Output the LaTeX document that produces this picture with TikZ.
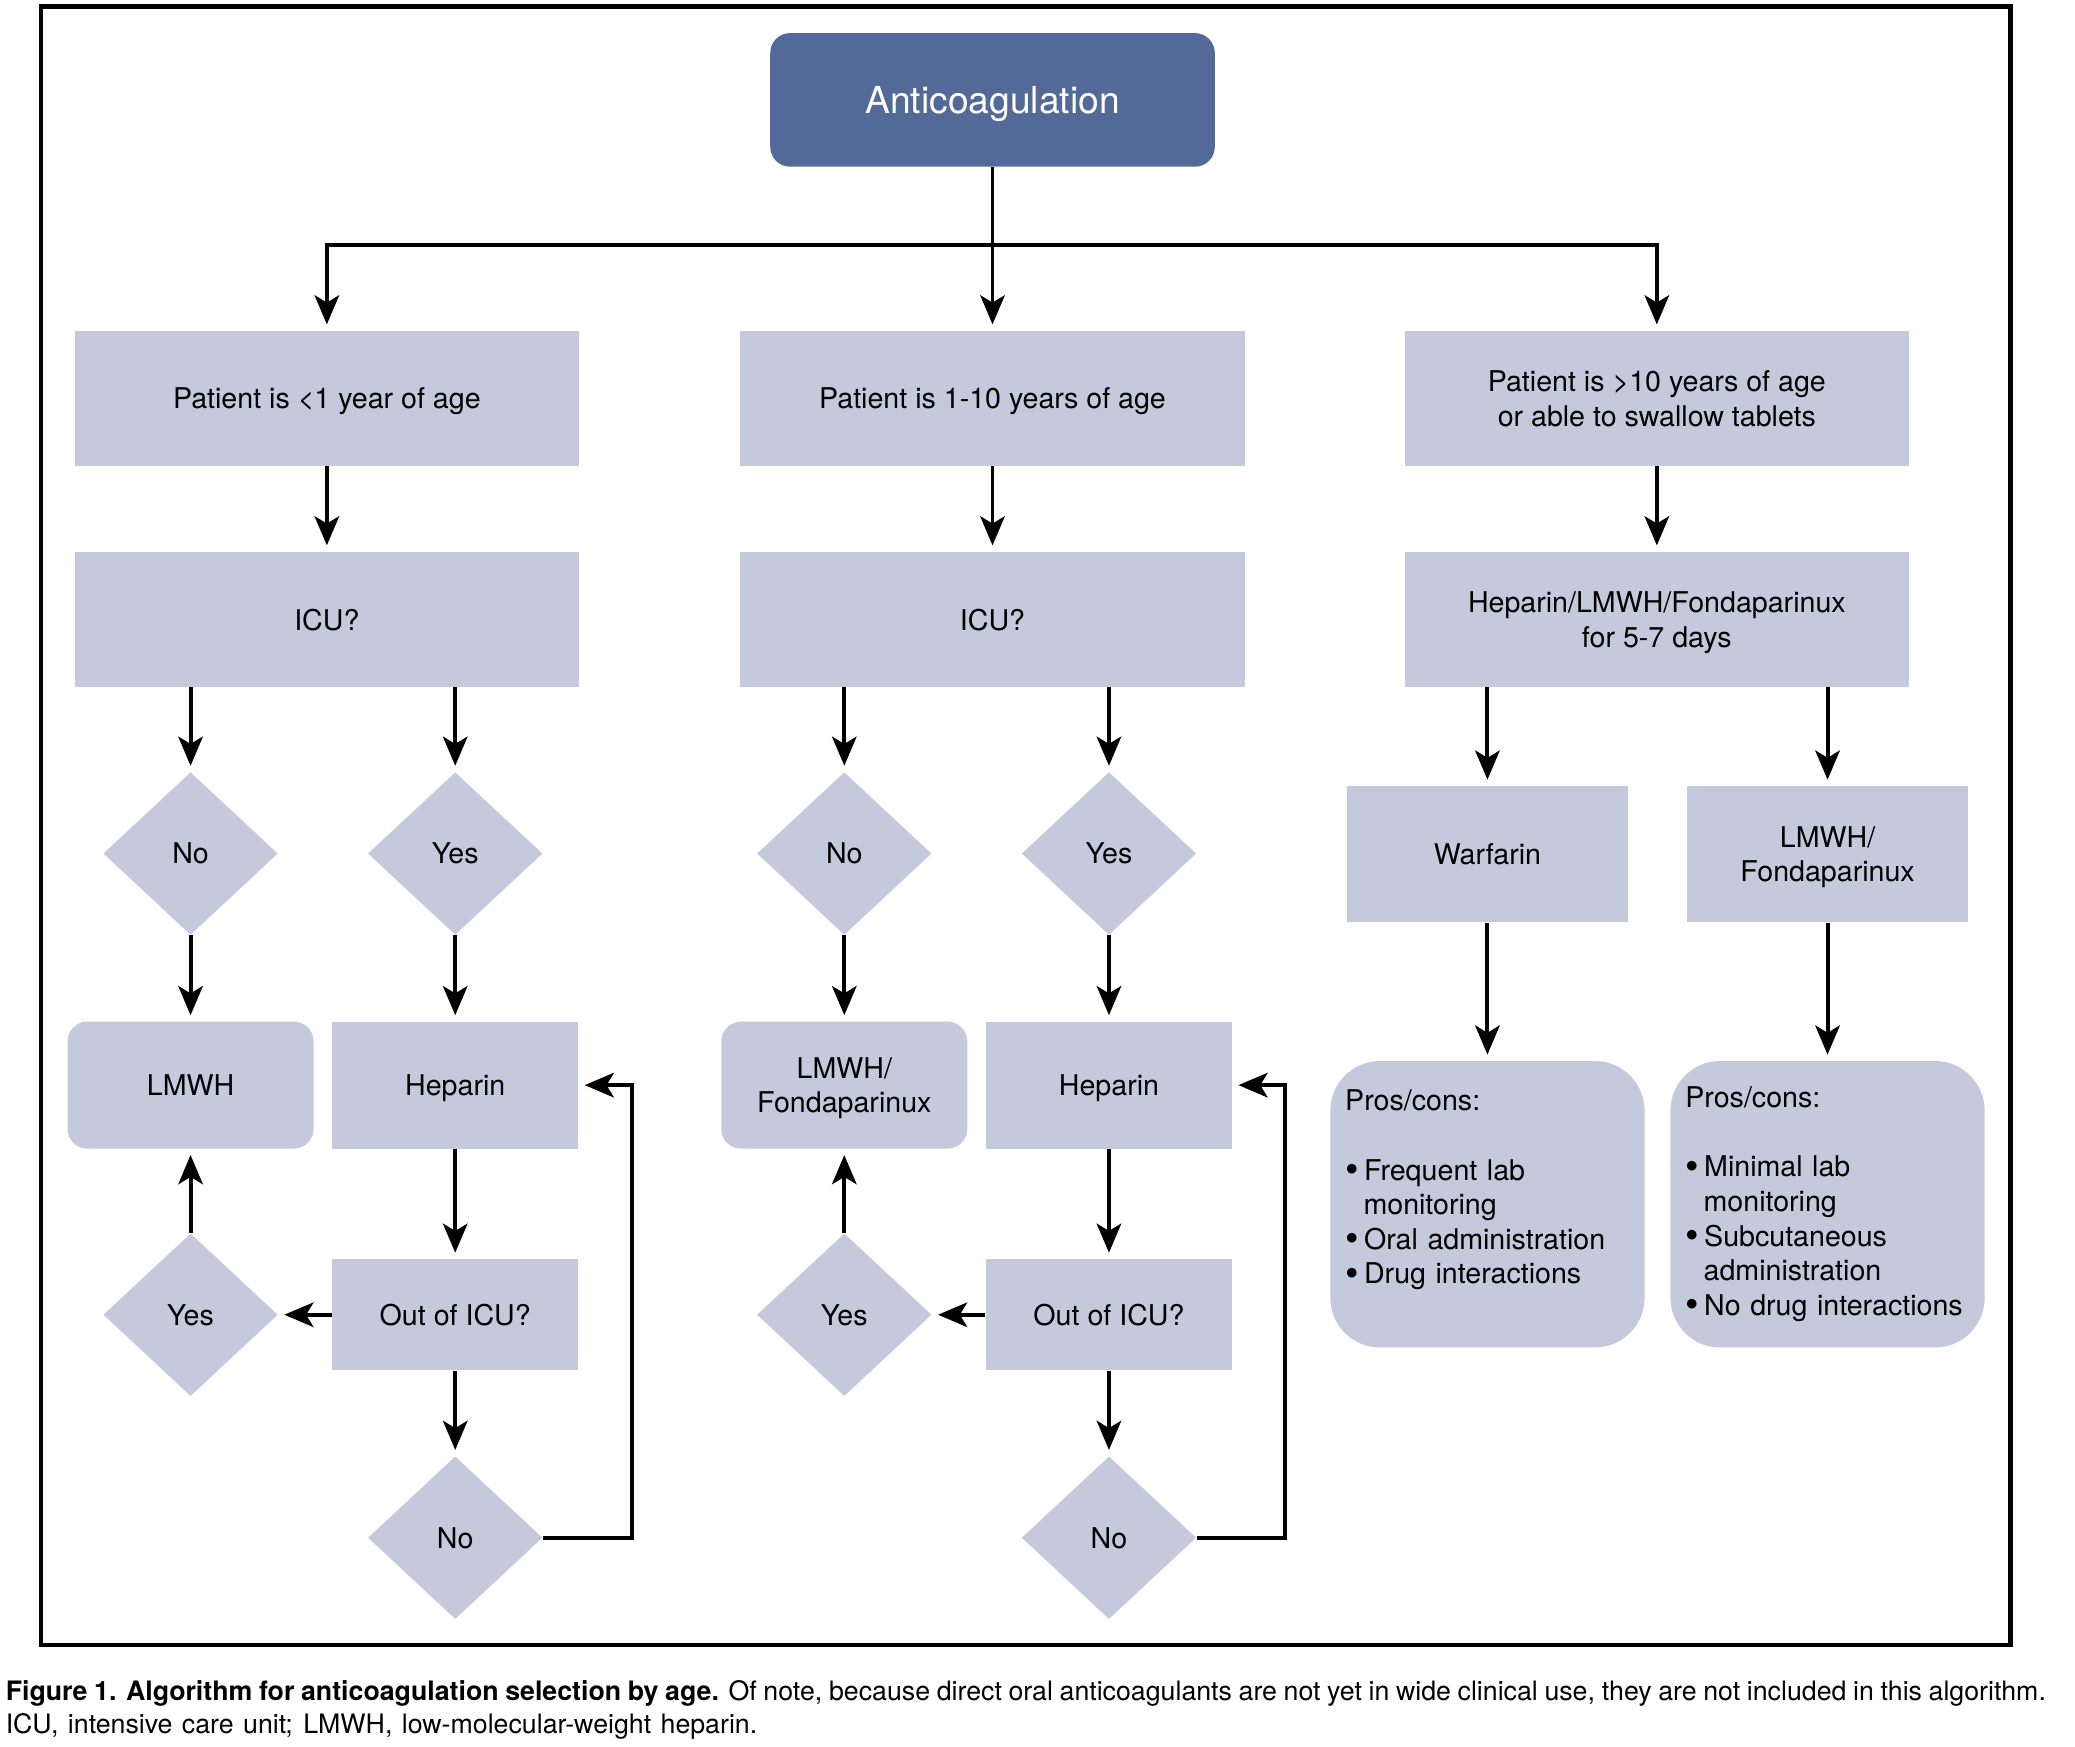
\documentclass[tikz,border=0pt]{standalone}
\usepackage{fontspec}
\setmainfont{TeX Gyre Heros}
\usetikzlibrary{arrows.meta,shapes.geometric}
\definecolor{topblue}{RGB}{83,106,153}
\definecolor{boxgray}{RGB}{197,201,220}
\tikzset{
  box/.style={fill=boxgray, inner sep=0pt, align=center, text depth=0pt, font=\fontsize{12.3}{14.9}\selectfont},
  agebox/.style={box, minimum width=7.62cm, minimum height=2.04cm},
  drugbox/.style={box, minimum width=3.72cm, minimum height=1.92cm},
  druground/.style={drugbox, rounded corners=0.3cm},
  outbox/.style={box, minimum width=3.72cm, minimum height=1.68cm},
  oralbox/.style={box, minimum width=4.25cm, minimum height=2.06cm},
  prosbox/.style={box, text depth={}, rounded corners=0.75cm, align=left, text width=4.3cm, inner xsep=0.225cm, minimum height=4.33cm},
  choice/.style={box, diamond, minimum width=2.64cm, minimum height=2.46cm},
  arr/.style={-{Stealth[length=0.44cm,width=0.37cm,inset=0.11cm]}, line width=1.7pt, shorten >=0.09cm},
  plain/.style={line width=1.7pt}
}
\newcommand{\bul}{\makebox[0.66em][l]{\raisebox{-0.08em}{\scalebox{1.35}{\textbullet}}}}
\newcommand{\ind}{\hspace*{0.64em}}

\begin{document}
\begin{tikzpicture}[x=0.02cm, y=-0.02cm]
\useasboundingbox (0,0) rectangle (1568,1319.4);
\draw[line width=2pt] (31,5) rectangle (1519.3,1243);

% top
\node[fill=topblue, rounded corners=0.3cm, minimum width=6.72cm, minimum height=2.02cm, text depth=0pt,
      text=white, font=\fontsize{16}{19}\selectfont] (anti) at (750,75.5) {Anticoagulation};
\coordinate (split) at (750,185);

% age groups
\node[agebox] (pat1) at (247,301) {Patient is <1 year of age};
\node[agebox] (pat2) at (750,301) {Patient is 1-10 years of age};
\node[agebox] (pat3) at (1252,301) {Patient is >10 years of age\\or able to swallow tablets};

\node[agebox] (icu1) at (247,468) {ICU?};
\node[agebox] (icu2) at (750,468) {ICU?};
\node[agebox] (bridge) at (1252,468) {Heparin/LMWH/Fondaparinux\\for 5-7 days};

% left column
\node[choice] (no1) at (144,645) {No};
\node[choice] (yes1) at (344,645) {Yes};
\node[druground] (lmwh1) at (144,820) {LMWH};
\node[drugbox] (hep1) at (344,820) {Heparin};
\node[outbox] (out1) at (344,993.5) {Out of ICU?};
\node[choice] (back1) at (144,993.5) {Yes};
\node[choice] (stay1) at (344,1162) {No};

% middle column
\node[choice] (no2) at (638,645) {No};
\node[choice] (yes2) at (838,645) {Yes};
\node[druground] (lmwh2) at (638,820) {LMWH/\\Fondaparinux};
\node[drugbox] (hep2) at (838,820) {Heparin};
\node[outbox] (out2) at (838,993.5) {Out of ICU?};
\node[choice] (back2) at (638,993.5) {Yes};
\node[choice] (stay2) at (838,1162) {No};

% right column
\node[oralbox] (warf) at (1124,645.5) {Warfarin};
\node[oralbox] (lmwh3) at (1381,645.5) {LMWH/\\Fondaparinux};
\node[prosbox] (pros1) at (1124,910) {Pros/cons:\\\mbox{}\\\bul Frequent lab\\\ind monitoring\\\bul Oral administration\\\bul Drug interactions\\\mbox{}};
\node[prosbox] (pros2) at (1381,910) {Pros/cons:\\\mbox{}\\\bul Minimal lab\\\ind monitoring\\\bul Subcutaneous\\\ind administration\\\bul No drug interactions};

% connectors
\draw[arr] (anti.south) -- (pat2.north);
\draw[arr] (split) -| (pat1.north);
\draw[arr] (split) -| (pat3.north);
\draw[arr] (pat1.south) -- (icu1.north);
\draw[arr] (pat2.south) -- (icu2.north);
\draw[arr] (pat3.south) -- (bridge.north);

\draw[arr] (icu1.south -| no1.north) -- (no1.north);
\draw[arr] (icu1.south -| yes1.north) -- (yes1.north);
\draw[arr] (no1.south) -- (lmwh1.north);
\draw[arr] (yes1.south) -- (hep1.north);
\draw[arr] (hep1.south) -- (out1.north);
\draw[arr] (out1.west) -- (back1.east);
\draw[arr] (back1.north) -- (lmwh1.south);
\draw[arr] (out1.south) -- (stay1.north);
\draw[arr] (stay1.east) -- ++(67,0) |- (hep1.east);

\draw[arr] (icu2.south -| no2.north) -- (no2.north);
\draw[arr] (icu2.south -| yes2.north) -- (yes2.north);
\draw[arr] (no2.south) -- (lmwh2.north);
\draw[arr] (yes2.south) -- (hep2.north);
\draw[arr] (hep2.south) -- (out2.north);
\draw[arr] (out2.west) -- (back2.east);
\draw[arr] (back2.north) -- (lmwh2.south);
\draw[arr] (out2.south) -- (stay2.north);
\draw[arr] (stay2.east) -- ++(67,0) |- (hep2.east);

\draw[arr] (bridge.south -| warf.north) -- (warf.north);
\draw[arr] (bridge.south -| lmwh3.north) -- (lmwh3.north);
\draw[arr] (warf.south) -- (pros1.north);
\draw[arr] (lmwh3.south) -- (pros2.north);

% caption
\node[anchor=base west, align=left, inner sep=0pt, font=\fontsize{11.5}{14.4}\selectfont] (cap) at (4,1310)
  {\makebox[30.84cm][s]{\textbf{Figure 1. Algorithm for anticoagulation selection by age.} Of note, because direct oral anticoagulants are not yet in wide clinical use, they are not included in this algorithm.}\\
   \makebox[11.36cm][s]{ICU, intensive care unit; LMWH, low-molecular-weight heparin.}};
\end{tikzpicture}
\end{document}
